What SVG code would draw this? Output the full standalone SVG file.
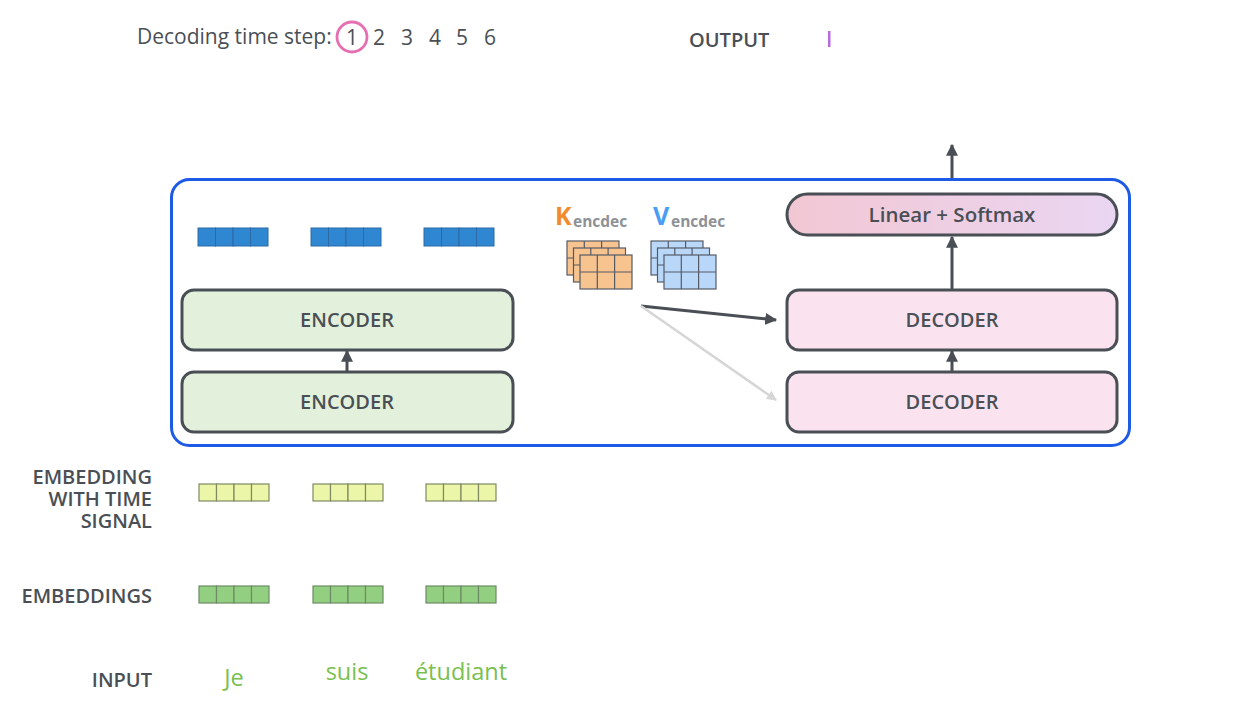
<svg xmlns="http://www.w3.org/2000/svg" width="1239" height="701" viewBox="0 0 1239 701">
<style>
text{font-family:"Open Sans","Noto Sans","Liberation Sans",sans-serif;fill:#4a4f55}
.lbl{font-size:20px;font-weight:600;text-anchor:end}
.box{stroke:#4a4f55;stroke-width:3}
.enc{fill:#e3f1dc}
.dec{fill:#fae3ef}
.bt{font-size:20px;font-weight:600;text-anchor:middle}
.num{font-size:21px;font-weight:500;text-anchor:middle}
.word{font-size:23.5px;fill:#79c050;text-anchor:middle}
.blue rect{fill:#2f86d1;stroke:#2b6aa6;stroke-width:1}
.yel rect{fill:#ebf6a8;stroke:#7f8a62;stroke-width:1.2}
.grn rect{fill:#93cf80;stroke:#6d8b66;stroke-width:1.2}
.kg rect{fill:#f7c38f;stroke:#555a66;stroke-width:1.2}
.vg rect{fill:#b9d7f8;stroke:#555a66;stroke-width:1.2}
.gl{stroke:#555a66;stroke-width:1.2}
.sub{font-size:15.5px;font-weight:700;fill:#8e9196}
</style>
<defs>
<marker id="ah" viewBox="0 0 10 10" refX="9" refY="5" markerWidth="4" markerHeight="4" orient="auto"><path d="M0,0L10,5L0,10z" fill="#4a4f55"/></marker>
<marker id="ahg" viewBox="0 0 10 10" refX="9" refY="5" markerWidth="4" markerHeight="4" orient="auto"><path d="M0,0L10,5L0,10z" fill="#d6d6d6"/></marker>
<linearGradient id="ls" x1="0" x2="1" y1="0" y2="0"><stop offset="0" stop-color="#f2c7d3"/><stop offset="1" stop-color="#ead6f2"/></linearGradient>
</defs>

<g id="header">
<text x="137" y="44" style="font-size:21px;font-weight:500">Decoding time step:</text>
<circle cx="352" cy="37" r="15" fill="none" stroke="#e56fb1" stroke-width="2.8"/>
<text class="num" x="352" y="45">1</text>
<text class="num" x="379" y="45">2</text>
<text class="num" x="407" y="45">3</text>
<text class="num" x="435" y="45">4</text>
<text class="num" x="462" y="45">5</text>
<text class="num" x="490" y="45">6</text>
</g>
<g id="output">
<text x="689" y="47" style="font-size:20px;font-weight:600">OUTPUT</text>
<rect x="828" y="31" width="2.5" height="16" fill="#b86cd9"/>
</g>

<g id="container">
<rect x="171.5" y="179.5" width="958" height="266" rx="18" fill="none" stroke="#1d5ae6" stroke-width="3"/>
</g>

<g id="encoder-outputs" class="blue">
<rect x="198" y="228" width="17.5" height="18"/><rect x="215.5" y="228" width="17.5" height="18"/><rect x="233" y="228" width="17.5" height="18"/><rect x="250.5" y="228" width="17.5" height="18"/>
<rect x="311" y="228" width="17.5" height="18"/><rect x="328.5" y="228" width="17.5" height="18"/><rect x="346" y="228" width="17.5" height="18"/><rect x="363.5" y="228" width="17.5" height="18"/>
<rect x="424" y="228" width="17.5" height="18"/><rect x="441.5" y="228" width="17.5" height="18"/><rect x="459" y="228" width="17.5" height="18"/><rect x="476.5" y="228" width="17.5" height="18"/>
</g>

<g id="encoder2"><rect class="box enc" x="182" y="290" width="331" height="60" rx="12"/><text class="bt" x="347" y="327">ENCODER</text></g>
<g id="encoder1"><rect class="box enc" x="182" y="372" width="331" height="60" rx="12"/><text class="bt" x="347" y="409">ENCODER</text></g>

<g id="decoder2"><rect class="box dec" x="787" y="290" width="330" height="60" rx="12"/><text class="bt" x="952" y="327">DECODER</text></g>
<g id="decoder1"><rect class="box dec" x="787" y="372" width="330" height="60" rx="12"/><text class="bt" x="952" y="409">DECODER</text></g>
<g id="linear-softmax"><rect class="box" fill="url(#ls)" x="787" y="194" width="330" height="41" rx="20.5"/><text x="952" y="222" style="font-size:20.5px;font-weight:600;text-anchor:middle">Linear + Softmax</text></g>

<g id="k-encdec">
<text x="555" y="225" style="font-size:25px;font-weight:700;fill:#f18b2c">K</text>
<text class="sub" x="573" y="227">encdec</text>
<g class="kg">
<g transform="translate(567,241)"><rect width="52" height="34"/><line class="gl" x1="17.3" y1="0" x2="17.3" y2="34"/><line class="gl" x1="34.6" y1="0" x2="34.6" y2="34"/><line class="gl" x1="0" y1="17" x2="52" y2="17"/></g>
<g transform="translate(573.5,248)"><rect width="52" height="34"/><line class="gl" x1="17.3" y1="0" x2="17.3" y2="34"/><line class="gl" x1="34.6" y1="0" x2="34.6" y2="34"/><line class="gl" x1="0" y1="17" x2="52" y2="17"/></g>
<g transform="translate(580,255)"><rect width="52" height="34"/><line class="gl" x1="17.3" y1="0" x2="17.3" y2="34"/><line class="gl" x1="34.6" y1="0" x2="34.6" y2="34"/><line class="gl" x1="0" y1="17" x2="52" y2="17"/></g>
</g>
</g>
<g id="v-encdec">
<text x="653" y="225" style="font-size:25px;font-weight:700;fill:#4b9df4">V</text>
<text class="sub" x="671" y="227">encdec</text>
<g class="vg">
<g transform="translate(651,241)"><rect width="52" height="34"/><line class="gl" x1="17.3" y1="0" x2="17.3" y2="34"/><line class="gl" x1="34.6" y1="0" x2="34.6" y2="34"/><line class="gl" x1="0" y1="17" x2="52" y2="17"/></g>
<g transform="translate(657.5,248)"><rect width="52" height="34"/><line class="gl" x1="17.3" y1="0" x2="17.3" y2="34"/><line class="gl" x1="34.6" y1="0" x2="34.6" y2="34"/><line class="gl" x1="0" y1="17" x2="52" y2="17"/></g>
<g transform="translate(664,255)"><rect width="52" height="34"/><line class="gl" x1="17.3" y1="0" x2="17.3" y2="34"/><line class="gl" x1="34.6" y1="0" x2="34.6" y2="34"/><line class="gl" x1="0" y1="17" x2="52" y2="17"/></g>
</g>
</g>

<g id="connectors" fill="none">
<line x1="347" y1="371" x2="347" y2="351" stroke="#4a4f55" stroke-width="3" marker-end="url(#ah)"/>
<line x1="952" y1="371" x2="952" y2="351" stroke="#4a4f55" stroke-width="3" marker-end="url(#ah)"/>
<line x1="952" y1="289" x2="952" y2="237" stroke="#4a4f55" stroke-width="3" marker-end="url(#ah)"/>
<line x1="952" y1="178" x2="952" y2="145" stroke="#4a4f55" stroke-width="3" marker-end="url(#ah)"/>
<line x1="641" y1="306" x2="776" y2="320" stroke="#4a4f55" stroke-width="3" marker-end="url(#ah)"/>
<line x1="641" y1="306" x2="776" y2="400" stroke="#d6d6d6" stroke-width="2.5" marker-end="url(#ahg)"/>
</g>

<g id="labels">
<text class="lbl" x="152" y="484"><tspan x="152" y="484">EMBEDDING</tspan><tspan x="152" y="506">WITH TIME</tspan><tspan x="152" y="528">SIGNAL</tspan></text>
<text class="lbl" x="152" y="603">EMBEDDINGS</text>
<text class="lbl" x="152" y="687">INPUT</text>
</g>

<g id="time-signal" class="yel">
<rect x="199" y="484" width="17.5" height="17"/><rect x="216.5" y="484" width="17.5" height="17"/><rect x="234" y="484" width="17.5" height="17"/><rect x="251.5" y="484" width="17.5" height="17"/>
<rect x="313" y="484" width="17.5" height="17"/><rect x="330.5" y="484" width="17.5" height="17"/><rect x="348" y="484" width="17.5" height="17"/><rect x="365.5" y="484" width="17.5" height="17"/>
<rect x="426" y="484" width="17.5" height="17"/><rect x="443.5" y="484" width="17.5" height="17"/><rect x="461" y="484" width="17.5" height="17"/><rect x="478.5" y="484" width="17.5" height="17"/>
</g>
<g id="embeddings" class="grn">
<rect x="199" y="586" width="17.5" height="17"/><rect x="216.5" y="586" width="17.5" height="17"/><rect x="234" y="586" width="17.5" height="17"/><rect x="251.5" y="586" width="17.5" height="17"/>
<rect x="313" y="586" width="17.5" height="17"/><rect x="330.5" y="586" width="17.5" height="17"/><rect x="348" y="586" width="17.5" height="17"/><rect x="365.5" y="586" width="17.5" height="17"/>
<rect x="426" y="586" width="17.5" height="17"/><rect x="443.5" y="586" width="17.5" height="17"/><rect x="461" y="586" width="17.5" height="17"/><rect x="478.5" y="586" width="17.5" height="17"/>
</g>

<g id="inputs">
<text class="word" x="234" y="686">Je</text>
<text class="word" x="347" y="680">suis</text>
<text class="word" x="461" y="680">étudiant</text>
</g>
</svg>
